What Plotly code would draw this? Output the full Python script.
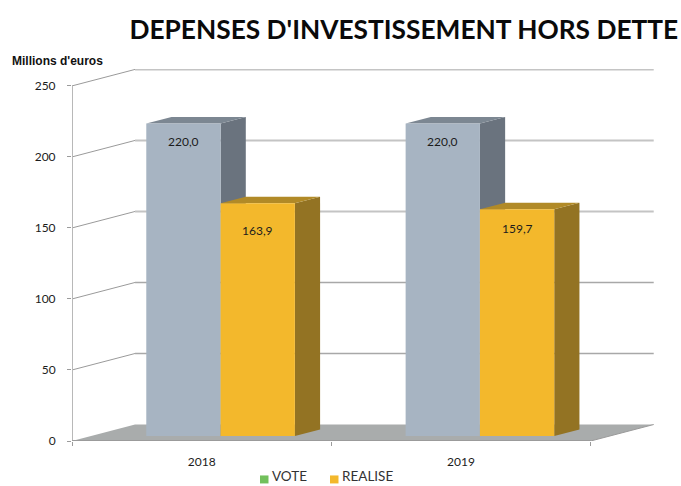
import plotly.graph_objects as go

title = "DEPENSES D'INVESTISSEMENT HORS DETTE"
unit_label = "Millions d'euros"
years = ["2018", "2019"]
vote = [220.0, 220.0]
realise = [163.9, 159.7]
vote_text = ["220,0", "220,0"]
realise_text = ["163,9", "159,7"]
y_ticks = [0, 50, 100, 150, 200, 250]
legend_names = ["VOTE", "REALISE"]
legend_colors = ["#72c05c", "#f3b82c"]

# depth projection, in axis units
DX, DY = 0.243, 11.6
D_FRONT, D_BAR = 0.30, 0.40
BAR_W = 0.2865
X_MAX, Y_MAX = 2.2518, 261.9
centres = [i + 0.5 for i in range(len(years))]
fx = [c + D_FRONT * DX for c in centres]
base = D_FRONT * DY

GREY = ("#a7b4c2", "#6a737e", "#7c8792")
GOLD = ("#f3b82c", "#937323", "#b18a27")

# plot area in page pixels
L, R, T, B = 72, 656, 69, 441.5


def px(x):
    return (x - L) / (R - L)


def py(y):
    return (B - y) / (B - T)


def poly(pts, fill, line=None, width=0, layer="below"):
    path = "M " + " L ".join(f"{x},{y}" for x, y in pts) + " Z"
    return dict(type="path", path=path, xref="x", yref="y", layer=layer,
                fillcolor=fill, line=dict(color=line or fill, width=width))


def seg(pts, color, width):
    path = "M " + " L ".join(f"{x},{y}" for x, y in pts)
    return dict(type="path", path=path, xref="x", yref="y", layer="below",
                line=dict(color=color, width=width))


shapes = []
# floor
n = len(years)
shapes.append(poly([(0, 0), (DX, DY), (n + DX, DY), (n, 0)], "#a9acac"))
# walls' gridlines
for t in y_ticks[1:]:
    c, w = ("#c4c4c4", 2) if t in (150, 200, 250) else ("#a8a8a8", 1.5)
    shapes.append(seg([(DX, t + DY), (n + DX, t + DY)], c, w))
    shapes.append(seg([(0, t), (DX, t + DY)], "#9a9a9a", 1))
# axes
shapes.append(seg([(0, 0), (0, y_ticks[-1])], "#b8b8b8", 2))
shapes.append(seg([(0, 0), (n, 0)], "#9b9b9b", 2))
shapes.append(seg([(n, 0), (n + DX, DY)], "#9a9a9a", 1))


def faces(left, value, colors):
    right = left + BAR_W
    top = base + value
    ox, oy = D_BAR * DX, D_BAR * DY
    return [
        poly([(right, base), (right + ox, base + oy), (right + ox, top + oy), (right, top)], colors[1]),
        poly([(left, top), (left + ox, top + oy), (right + ox, top + oy), (right, top)], colors[2]),
    ]


for i in range(n):
    shapes += faces(fx[i] - BAR_W, vote[i], GREY)
    shapes += faces(fx[i], realise[i], GOLD)

fig = go.Figure()
fig.add_bar(x=fx, y=vote, base=base, width=BAR_W, offset=-BAR_W, name="VOTE",
            marker=dict(color=GREY[0], line=dict(width=0)))
fig.add_bar(x=fx, y=realise, base=base, width=BAR_W, offset=0, name="REALISE",
            marker=dict(color=GOLD[0], line=dict(width=0)))

LABEL = dict(family="Lato", size=12, color="#1c1c1c")
annotations = []
drops = [[18, 18], [27, 19]]
for i in range(n):
    annotations.append(dict(x=fx[i] - BAR_W / 2, y=base + vote[i], yshift=-drops[0][i], text=vote_text[i],
                            showarrow=False, font=LABEL, yanchor="middle"))
    annotations.append(dict(x=fx[i] + BAR_W / 2, y=base + realise[i], yshift=-drops[1][i], text=realise_text[i],
                            showarrow=False, font=LABEL, yanchor="middle"))
annotations.append(dict(xref="paper", yref="paper", x=-0.106, y=1.022, xanchor="left", yanchor="middle",
                        text=f"<b>{unit_label}</b>", showarrow=False,
                        font=dict(family="Liberation Sans", size=12, color="#111111")))

# legend row
swatch_left = [260, 330]
text_left = [272, 342]
for name, color, sx, tx in zip(legend_names, legend_colors, swatch_left, text_left):
    shapes.append(dict(type="rect", xref="paper", yref="paper", layer="above",
                       x0=px(sx), x1=px(sx + 8.5), y0=py(476), y1=py(484),
                       fillcolor=color, line=dict(width=0)))
    annotations.append(dict(xref="paper", yref="paper", x=px(tx), y=py(476.5), xanchor="left", yanchor="middle",
                            xshift=-1, text=name, showarrow=False,
                            font=dict(family="Lato", size=13.5, color="#333333"), borderpad=0))

fig.update_layout(
    width=681, height=486, autosize=False, showlegend=False,
    margin=dict(l=L, r=681 - R, t=T, b=486 - B, autoexpand=False),
    paper_bgcolor="white", plot_bgcolor="white",
    barmode="overlay",
    title=dict(text=f"<b>{title}</b>", x=0.593, xanchor="center", xref="container",
               y=0.938, yanchor="middle", yref="container",
               font=dict(family="Lato", size=26.3, color="#0a0a0a")),
    xaxis=dict(range=[0, X_MAX], showgrid=False, zeroline=False, showline=False,
               tickmode="array", tickvals=centres, ticktext=years, ticks="",
               ticklabelstandoff=12, tickfont=dict(family="Lato", size=12, color="#1c1c1c"),
               minor=dict(tickmode="array", tickvals=list(range(n + 1)), ticks="outside",
                          ticklen=4, tickwidth=1, tickcolor="#9b9b9b", showgrid=False)),
    yaxis=dict(range=[0, Y_MAX], showgrid=False, zeroline=False, showline=False,
               tickmode="array", tickvals=y_ticks, ticks="outside", ticklen=4, tickwidth=1,
               tickcolor="#9b9b9b", ticklabelstandoff=9,
               tickfont=dict(family="Lato", size=12, color="#1c1c1c")),
    shapes=shapes, annotations=annotations,
)
fig.write_html("out.html", post_script="document.body.style.margin='0';",
               config={"displayModeBar": False})
